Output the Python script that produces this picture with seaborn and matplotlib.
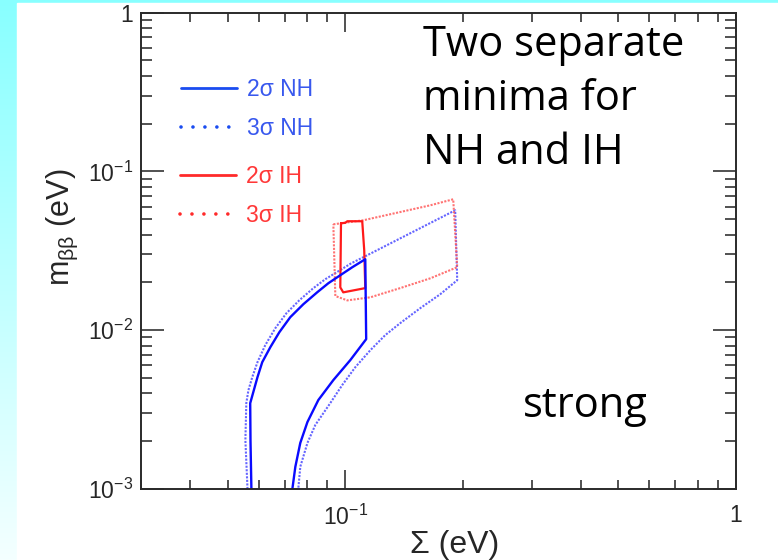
import numpy as np
import pandas as pd
import matplotlib
matplotlib.use("Agg")
import matplotlib.pyplot as plt
from matplotlib.lines import Line2D
from matplotlib.patches import Rectangle
from matplotlib.colors import LinearSegmentedColormap
from matplotlib.ticker import NullFormatter, LogLocator
import seaborn as sns

# ---- contour data: Σ (sum of neutrino masses, eV) vs m_ββ (eV) ----
# 2σ normal hierarchy (open towards the lower edge)
nh2_sigma = [0.0575, 0.0572, 0.0571, 0.0596, 0.0613, 0.0643, 0.0678, 0.0723, 0.0781,
             0.0848, 0.0905, 0.0971, 0.1042, 0.1125,
             0.1131, 0.1030, 0.0932, 0.0853, 0.0800, 0.0767, 0.0745, 0.0732]
nh2_mbb = [0.00100, 0.00200, 0.00347, 0.00506, 0.00629, 0.00782, 0.00971, 0.01207, 0.01457,
           0.01734, 0.01975, 0.02218, 0.02490, 0.02796,
           0.00878, 0.00648, 0.00485, 0.00363, 0.00264, 0.00195, 0.00138, 0.00100]

# 3σ normal hierarchy
nh3_sigma = [0.0562, 0.0555, 0.0558, 0.0565, 0.0578, 0.0596, 0.0624, 0.0662, 0.0707,
             0.0763, 0.0828, 0.0889, 0.0960, 0.1036, 0.1125,
             0.1911, 0.1934, 0.1750, 0.1555, 0.1382, 0.1265, 0.1159, 0.1061, 0.0982,
             0.0915, 0.0838, 0.0800, 0.0767, 0.0758]
nh3_mbb = [0.00100, 0.00203, 0.00347, 0.00419, 0.00506, 0.00629, 0.00805, 0.01029, 0.01279,
           0.01544, 0.01837, 0.02094, 0.02350, 0.02638, 0.02921,
           0.05685, 0.02063, 0.01684, 0.01375, 0.01107, 0.00930, 0.00748, 0.00585, 0.00451,
           0.00347, 0.00253, 0.00195, 0.00138, 0.00100]

# 2σ inverted hierarchy (closed)
ih2_sigma = [0.0975, 0.1000, 0.1012, 0.1105, 0.1118, 0.1125, 0.0988, 0.0971, 0.0975]
ih2_mbb = [0.0471, 0.0474, 0.0485, 0.0485, 0.0319, 0.0184, 0.0173, 0.0186, 0.0471]

# 3σ inverted hierarchy (closed)
ih3_sigma = [0.0932, 0.1112, 0.1650, 0.1889, 0.1934, 0.1650, 0.1382, 0.1159, 0.1012,
             0.0943, 0.0932]
ih3_mbb = [0.0464, 0.0492, 0.0611, 0.0667, 0.0249, 0.0212, 0.0184, 0.0161, 0.0154,
           0.0164, 0.0464]

legend_nh = ["2σ NH", "3σ NH"]
legend_ih = ["2σ IH", "3σ IH"]

x_ticks = [0.1, 1.0]
x_ticklabels = [r"$10^{-1}$", "1"]
y_ticks = [1e-3, 1e-2, 1e-1, 1.0]
y_ticklabels = [r"$10^{-3}$", r"$10^{-2}$", r"$10^{-1}$", "1"]

# ---- style ----
sns.set_style("ticks")
plt.rcParams["font.family"] = ["Liberation Sans", "DejaVu Sans"]
plt.rcParams["mathtext.fontset"] = "custom"
plt.rcParams["mathtext.rm"] = "Liberation Sans"
plt.rcParams["mathtext.it"] = "Liberation Sans:italic"
plt.rcParams["mathtext.default"] = "regular"

W, H = 778, 560
fig = plt.figure(figsize=(W / 100, H / 100), dpi=100)

# slide background: cyan gradient frame with a white panel
bg = fig.add_axes([0, 0, 1, 1], zorder=-10)
grad = np.linspace(0, 1, 256).reshape(-1, 1)
cmap = LinearSegmentedColormap.from_list("slide", ["#88ffff", "#f4ffff"])
bg.imshow(grad, aspect="auto", cmap=cmap, extent=[0, 1, 0, 1], origin="upper")
bg.add_patch(Rectangle((17 / W, 0), 1, 1 - 3 / H, color="white", transform=bg.transAxes))
bg.set_xlim(0, 1)
bg.set_ylim(0, 1)
bg.axis("off")

left, right, bottom, top = 141 / W, 736 / W, 1 - 489 / H, 1 - 12.5 / H
ax = fig.add_axes([left, bottom, right - left, top - bottom])
ax.set_facecolor("white")
ax.set_xscale("log")
ax.set_yscale("log")


def contour(xs, ys, **kw):
    df = pd.DataFrame({"sigma": xs, "mbb": ys})
    sns.lineplot(data=df, x="sigma", y="mbb", sort=False, estimator=None, ax=ax, **kw)


blue, blue_dot = "#0a0aff", "#4a4aff"
red, red_dot = "#ff1a1a", "#ff5a5a"
dots = (0, (1, 0.7))

contour(nh3_sigma, nh3_mbb, color=blue_dot, lw=1.5, linestyle=dots, alpha=0.85)
contour(ih3_sigma, ih3_mbb, color=red_dot, lw=1.5, linestyle=dots, alpha=0.85)
contour(ih2_sigma, ih2_mbb, color=red, lw=1.6)
contour(nh2_sigma, nh2_mbb, color=blue, lw=1.7)

ax.set_xlim(0.03, 1.0)
ax.set_ylim(1e-3, 1.0)

ax.set_xticks(x_ticks, labels=x_ticklabels)
ax.set_yticks(y_ticks, labels=y_ticklabels)
ax.xaxis.set_minor_locator(LogLocator(base=10, subs=np.arange(2, 10)))
ax.yaxis.set_minor_locator(LogLocator(base=10, subs=np.arange(2, 10)))
ax.xaxis.set_minor_formatter(NullFormatter())
ax.yaxis.set_minor_formatter(NullFormatter())

tick_col = "#222222"
ax.tick_params(axis="y", which="major", direction="in", length=16.5, width=1.1,
               left=True, right=True, color=tick_col, pad=6, labelsize=16.5)
ax.tick_params(axis="y", which="minor", direction="in", length=8, width=1.1,
               left=True, right=True, color=tick_col)
ax.tick_params(axis="x", which="major", direction="in", length=13.7, width=1.1,
               bottom=True, top=True, color=tick_col, pad=11, labelsize=16.5)
ax.tick_params(axis="x", which="minor", direction="in", length=6.5, width=1.1,
               bottom=True, top=True, color=tick_col)
for s in ax.spines.values():
    s.set_color("#2a2a2a")
    s.set_linewidth(1.4)

ax.set_xlabel("Σ (eV)", fontsize=23)
ax.xaxis.set_label_coords((455 - 141) / 595, (489 - 545) / 476.5)
ax.xaxis.label.set_va("center")
ax.set_ylabel(r"m$_{\mathrm{ββ}}$ (eV)", fontsize=22)
ax.yaxis.set_label_coords((62 - 141) / 595, (489 - 227) / 476.5)
ax.yaxis.label.set_va("center")

# legends
dot_style = (0, (0.01, 3.3))
nh_handles = [Line2D([], [], color="#1a4cf0", lw=2.0),
              Line2D([], [], color="#1a4cf0", lw=2.6, linestyle=dot_style,
                     dash_capstyle="round")]
ih_handles = [Line2D([], [], color="#ff2a2a", lw=2.0),
              Line2D([], [], color="#ff2a2a", lw=2.6, linestyle=dot_style,
                     dash_capstyle="round")]
leg_kw = dict(frameon=False, fontsize=16.5, handlelength=2.45, handletextpad=0.42,
              labelspacing=0.68, borderpad=0, borderaxespad=0, loc="upper left")
leg1 = ax.legend(nh_handles, legend_nh,
                 bbox_to_anchor=((181 - 141) / 595, (489 - 78) / 476.5), **leg_kw)
for t in leg1.get_texts():
    t.set_color("#3858ee")
ax.add_artist(leg1)
leg2 = ax.legend(ih_handles, legend_ih,
                 bbox_to_anchor=((180 - 141) / 595, (489 - 165) / 476.5), **leg_kw)
for t in leg2.get_texts():
    t.set_color("#ff3838")

# annotations
ax.text((423 - 141) / 595, (489 - 24) / 476.5, "Two separate\nminima for\nNH and IH",
        transform=ax.transAxes, ha="left", va="top", fontsize=30, family="Open Sans",
        linespacing=1.38, color="black")
ax.text((523 - 141) / 595, (489 - 417) / 476.5, "strong", transform=ax.transAxes,
        ha="left", va="baseline", fontsize=30, family="Open Sans", color="black")

fig.savefig("out.png", dpi=100)
